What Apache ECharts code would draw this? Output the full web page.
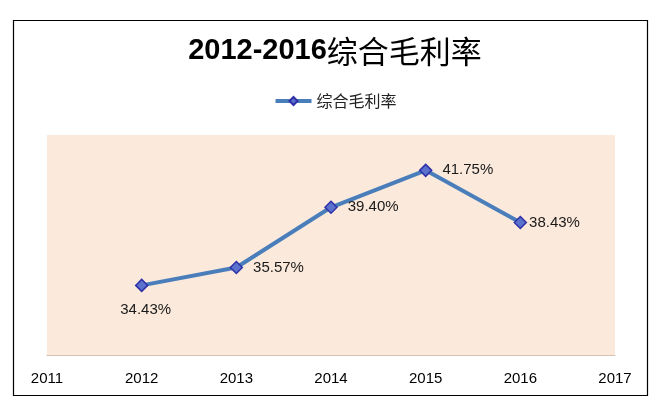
<!DOCTYPE html>
<html>
<head>
<meta charset="utf-8">
<script src="https://cdn.jsdelivr.net/npm/echarts@6/dist/echarts.min.js"></script>
<style>html,body{margin:0;padding:0;background:#fff;}#c{width:670px;height:412px;}</style>
</head>
<body>
<div id="c"></div>
<script>
var categories = ['2011', '2012', '2013', '2014', '2015', '2016', '2017'];
var seriesName = '综合毛利率';
var values = [null, 34.43, 35.57, 39.40, 41.75, 38.43, null];
var labelPlace = [null, 'bottom', 'right', 'right', 'right', 'right', null];
var labelGap = [0, 10, 10, 10, 10, 2, 0];
var yMin = 30, yMax = 44;

var chart = echarts.init(document.getElementById('c'), null, {renderer: 'canvas'});
var data = values.map(function (v, i) {
  if (v === null) return '-';
  return {
    value: v,
    label: {
      show: true,
      position: labelPlace[i],
      distance: labelGap[i],
      offset: labelPlace[i] === 'bottom' ? [4, 0] : [0, 0]
    }
  };
});
chart.setOption({
  backgroundColor: '#ffffff',
  animation: false,
  graphic: [{
    type: 'rect',
    shape: {x: 13.5, y: 20.5, width: 634, height: 375},
    style: {fill: 'none', stroke: '#000', lineWidth: 1.2},
    z: -1
  }],
  title: {
    text: '{a|2012-2016}{b|综合毛利率}',
    left: 'center',
    top: 31,
    textStyle: {
      rich: {
        a: {fontFamily: 'Liberation Sans', fontWeight: 'bold', fontSize: 29, color: '#000'},
        b: {fontFamily: 'Noto Sans CJK SC', fontWeight: 'normal', fontSize: 31, color: '#000'}
      }
    }
  },
  legend: {
    data: [seriesName],
    top: 88,
    left: 'center',
    itemWidth: 36,
    itemHeight: 10,
    itemGap: 6,
    lineStyle: {width: 4},
    textStyle: {fontFamily: 'Noto Sans CJK SC', fontSize: 16, color: '#222'}
  },
  grid: {left: 47, right: 55, top: 135, bottom: 57, show: true, backgroundColor: '#FBEADC', borderWidth: 0},
  xAxis: {
    type: 'category',
    data: categories,
    boundaryGap: false,
    axisLine: {lineStyle: {color: '#D3C2B4', width: 1}},
    axisTick: {show: false},
    axisLabel: {fontFamily: 'Liberation Sans', fontSize: 15, color: '#000', margin: 16},
    splitLine: {show: false}
  },
  yAxis: {
    type: 'value',
    min: yMin,
    max: yMax,
    interval: 2,
    show: false,
    splitLine: {show: false}
  },
  series: [{
    name: seriesName,
    type: 'line',
    data: data,
    symbol: 'diamond',
    symbolSize: 12,
    lineStyle: {color: '#4A7EBB', width: 4},
    itemStyle: {color: '#5A72CC', borderColor: '#3030A8', borderWidth: 1.5},
    label: {
      show: true,
      fontFamily: 'Liberation Sans',
      fontSize: 15,
      color: '#1a1a1a',
      formatter: function (p) { return p.value.toFixed(2) + '%'; }
    }
  }]
});
</script>
</body>
</html>
